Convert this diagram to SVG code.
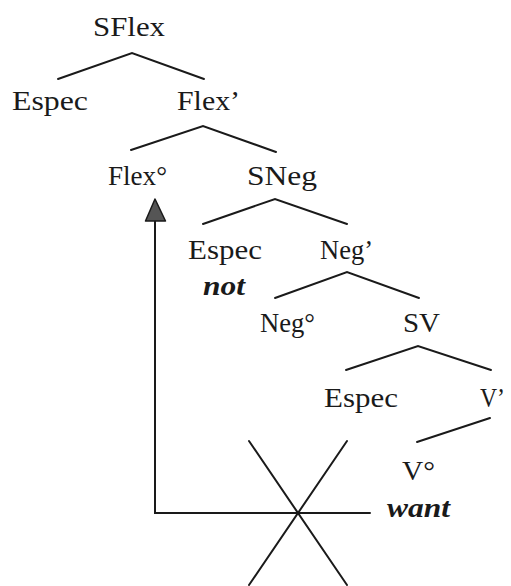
<svg xmlns="http://www.w3.org/2000/svg" width="511" height="586" viewBox="0 0 511 586">
<style>
text{font-family:'Liberation Serif','Times New Roman',Tinos,'Nimbus Roman','Nimbus Roman No9 L',FreeSerif,'DejaVu Serif','Noto Serif',Times,serif;font-size:28px;fill:#1a1a1a}
.i{font-style:italic;font-weight:bold}
.e{stroke:#1a1a1a;stroke-width:2;fill:none;stroke-linecap:round}
</style>
<rect width="511" height="586" fill="#fff"/>
<g id="connectors">
<polyline class="e" points="58,79 132,53 204,79"/>
<polyline class="e" points="131,150 203,126 276,152"/>
<polyline class="e" points="203,224 275,199 347,224"/>
<polyline class="e" points="275,298 347,272 419,298"/>
<polyline class="e" points="346,370 418,346 491,370"/>
<line class="e" x1="490" y1="418" x2="417" y2="442"/>
<g id="movement">
<polyline class="e" points="370,513 155,513 155,218"/>
<polygon points="155,199 145.5,221 165.5,221" fill="#555" stroke="#1a1a1a" stroke-width="1.5" stroke-linejoin="round"/>
</g>
<g id="cross">
<line class="e" x1="249" y1="441" x2="347" y2="585"/>
<line class="e" x1="347" y1="441" x2="249" y2="585"/>
</g>
</g>
<g id="SFlex"><text x="93" y="36" textLength="72" lengthAdjust="spacingAndGlyphs">SFlex</text></g>
<g id="Espec1"><text x="12" y="110" textLength="76" lengthAdjust="spacingAndGlyphs">Espec</text></g>
<g id="FlexBar"><text x="177" y="110" textLength="63" lengthAdjust="spacingAndGlyphs">Flex’</text></g>
<g id="Flex0"><text x="108" y="185" textLength="59" lengthAdjust="spacingAndGlyphs">Flex°</text></g>
<g id="SNeg"><text x="247" y="185" textLength="70" lengthAdjust="spacingAndGlyphs">SNeg</text></g>
<g id="Espec2"><text x="188" y="259" textLength="74" lengthAdjust="spacingAndGlyphs">Espec</text><text class="i" x="203" y="295" textLength="42" lengthAdjust="spacingAndGlyphs">not</text></g>
<g id="NegBar"><text x="320" y="259" textLength="53" lengthAdjust="spacingAndGlyphs">Neg’</text></g>
<g id="Neg0"><text x="260" y="332" textLength="55" lengthAdjust="spacingAndGlyphs">Neg°</text></g>
<g id="SV"><text x="403" y="332" textLength="37" lengthAdjust="spacingAndGlyphs">SV</text></g>
<g id="Espec3"><text x="324" y="407" textLength="74" lengthAdjust="spacingAndGlyphs">Espec</text></g>
<g id="VBar"><text x="480" y="407" textLength="25" lengthAdjust="spacingAndGlyphs">V’</text></g>
<g id="V0"><text x="402" y="480" textLength="33" lengthAdjust="spacingAndGlyphs">V°</text><text class="i" x="387" y="517" textLength="63" lengthAdjust="spacingAndGlyphs">want</text></g>
</svg>
